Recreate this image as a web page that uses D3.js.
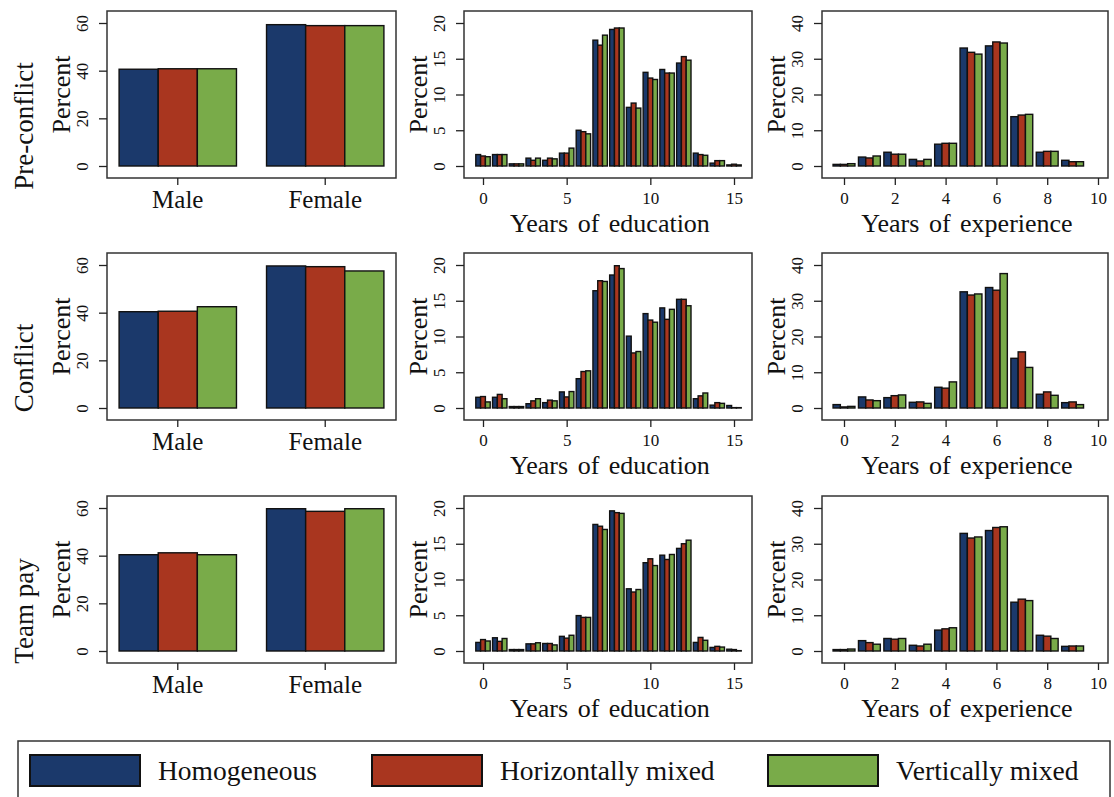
<!DOCTYPE html>
<html>
<head>
<meta charset="utf-8">
<script src="https://cdn.jsdelivr.net/npm/d3@7"></script>
<style>
  body { margin: 0; background: #fff; }
  svg { display: block; font-family: "Liberation Serif", "DejaVu Serif", serif; }
</style>
</head>
<body>
<div id="chart"></div>
<script>
// ---- data (percent of workers) ----
const rowLabels = ["Pre-conflict", "Conflict", "Team pay"];
const groups = ["Homogeneous", "Horizontally mixed", "Vertically mixed"];
const colors = ["#1b396b", "#a9361f", "#79ab49"];

const genderCats = ["Male", "Female"];
// each array: [homogeneous, horizontal, vertical], values per category
const genderPre      = [[40.6, 59.3], [40.8, 58.9], [40.8, 58.9]];
const genderConflict = [[40.4, 59.6], [40.6, 59.3], [42.5, 57.5]];
const genderTeam     = [[40.4, 59.7], [41.2, 58.6], [40.4, 59.7]];

const eduYears = [0, 1, 2, 3, 4, 5, 6, 7, 8, 9, 10, 11, 12, 13, 14, 15];
const eduPre = [
  [1.6, 1.6, 0.3, 1.1, 0.8, 1.8, 5.0, 17.6, 19.1, 8.2, 13.1, 13.5, 14.4, 1.8, 0.4, 0.15],
  [1.4, 1.6, 0.3, 0.8, 1.1, 1.8, 4.8, 16.9, 19.3, 8.8, 12.3, 13.0, 15.3, 1.6, 0.75, 0.25],
  [1.3, 1.6, 0.3, 1.1, 1.0, 2.5, 4.5, 18.3, 19.3, 8.1, 12.1, 13.0, 14.8, 1.5, 0.75, 0.15]
];
const eduConflict = [
  [1.5, 1.5, 0.2, 0.6, 0.75, 2.25, 4.1, 16.4, 18.6, 10.05, 13.2, 14.0, 15.2, 1.3, 0.4, 0.35],
  [1.6, 1.9, 0.2, 1.0, 1.1, 1.55, 5.1, 17.8, 19.9, 7.7, 12.3, 12.4, 15.2, 1.7, 0.75, 0.05],
  [0.85, 1.3, 0.2, 1.3, 1.0, 2.3, 5.2, 17.7, 19.5, 7.9, 12.0, 13.8, 14.3, 2.1, 0.65, 0.05]
];
const eduTeam = [
  [1.2, 1.85, 0.2, 1.0, 1.05, 2.05, 4.95, 17.7, 19.6, 8.7, 12.35, 13.4, 14.35, 1.2, 0.5, 0.25],
  [1.6, 1.35, 0.2, 1.0, 1.05, 1.8, 4.7, 17.45, 19.35, 8.25, 12.9, 12.8, 15.0, 1.9, 0.65, 0.2],
  [1.4, 1.75, 0.2, 1.15, 0.85, 2.2, 4.7, 17.0, 19.25, 8.6, 11.95, 13.5, 15.5, 1.5, 0.55, 0.05]
];

const expYears = [0, 1, 2, 3, 4, 5, 6, 7, 8, 9];
const expPre = [
  [0.45, 2.5, 3.85, 1.85, 6.1, 33.0, 33.6, 13.8, 3.85, 1.6],
  [0.45, 2.25, 3.3, 1.4, 6.35, 31.8, 34.7, 14.25, 4.1, 1.2],
  [0.65, 2.8, 3.3, 1.85, 6.35, 31.3, 34.4, 14.45, 4.1, 1.2]
];
const expConflict = [
  [0.95, 3.1, 2.9, 1.6, 5.8, 32.5, 33.7, 13.9, 3.85, 1.5],
  [0.3, 2.25, 3.45, 1.7, 5.55, 31.6, 32.95, 15.7, 4.5, 1.7],
  [0.45, 2.05, 3.65, 1.3, 7.3, 31.9, 37.6, 11.35, 3.55, 0.95]
];
const expTeam = [
  [0.4, 2.9, 3.5, 1.6, 5.85, 32.9, 33.7, 13.65, 4.4, 1.3],
  [0.4, 2.35, 3.3, 1.4, 6.2, 31.6, 34.55, 14.5, 4.15, 1.4],
  [0.55, 1.9, 3.5, 1.9, 6.5, 31.9, 34.75, 14.1, 3.5, 1.4]
];

const genderTicks = [0, 20, 40, 60];
const eduTicks = [0, 5, 10, 15, 20];
const expTicks = [0, 10, 20, 30, 40];
const eduXTicks = [0, 5, 10, 15];
const expXTicks = [0, 2, 4, 6, 8, 10];

const genderData = [genderPre, genderConflict, genderTeam];
const eduData = [eduPre, eduConflict, eduTeam];
const expData = [expPre, expConflict, expTeam];

// ---- layout ----
const width = 1114, height = 797;
const colX = [107, 464, 822];
const colW = [289, 288, 286];
const rowY = [11, 253, 496];
const boxH = 167;
const inset = 12;        // gap between box edge and 0 / top tick
const textCol = "#111";
const serif = '"Liberation Serif", "DejaVu Serif", serif';

const svg = d3.select("#chart").append("svg")
  .attr("width", width)
  .attr("height", height);

function yScaleFor(top, ticks) {
  return d3.scaleLinear()
    .domain([0, ticks[ticks.length - 1]])
    .range([top + boxH - inset, top + inset]);
}

function drawYAxis(g, x0, y, ticks) {
  const ax = g.append("g")
    .attr("transform", `translate(${x0},0)`)
    .call(d3.axisLeft(y).tickValues(ticks).tickSize(8).tickFormat(d3.format("d")))
    .attr("font-family", serif);
  ax.select(".domain").remove();
  ax.selectAll("line").attr("stroke", "#222").attr("stroke-width", 1.3);
  ax.selectAll("text")
    .attr("transform", "rotate(-90)")
    .attr("x", 0).attr("y", -19).attr("dy", 0)
    .attr("text-anchor", "middle")
    .attr("fill", textCol)
    .style("font-size", "17px");
}

function drawXAxis(g, y1, x, ticks, fontSize, labelY) {
  const axis = d3.axisBottom(x).tickSize(7);
  if (ticks) axis.tickValues(ticks).tickFormat(d3.format("d"));
  const ax = g.append("g")
    .attr("transform", `translate(0,${y1})`)
    .call(axis)
    .attr("font-family", serif);
  ax.select(".domain").remove();
  ax.selectAll("line").attr("stroke", "#222").attr("stroke-width", 1.3);
  ax.selectAll("text")
    .attr("y", labelY).attr("dy", 0)
    .attr("fill", textCol)
    .style("font-size", fontSize + "px");
}

function drawFrame(g, x0, top, w) {
  g.append("rect")
    .attr("x", x0).attr("y", top)
    .attr("width", w).attr("height", boxH)
    .attr("fill", "none")
    .attr("stroke", "#333")
    .attr("stroke-width", 1.5);
}

function percentLabel(g, x0, top) {
  g.append("text")
    .attr("transform", `translate(${x0 - 37},${top + boxH / 2}) rotate(-90)`)
    .attr("text-anchor", "middle")
    .attr("fill", textCol)
    .style("font-size", "26px")
    .text("Percent");
}

function histPanel(g, c, top, cats, series, xTicks, yTicks, xPad, title) {
  const x0 = colX[c], w = colW[c];
  const x = d3.scaleLinear()
    .domain([xTicks[0], xTicks[xTicks.length - 1]])
    .range([x0 + xPad[0], x0 + w - xPad[1]]);
  const y = yScaleFor(top, yTicks);
  const bw = 0.287;
  series.forEach((vals, s) => {
    g.append("g").selectAll("rect")
      .data(vals)
      .join("rect")
      .attr("x", (d, i) => x(cats[i] + (s - 1.5) * bw))
      .attr("width", x(bw) - x(0))
      .attr("y", d => y(d))
      .attr("height", d => y(0) - y(d))
      .attr("fill", colors[s])
      .attr("stroke", "#111")
      .attr("stroke-width", 1.4);
  });
  drawFrame(g, x0, top, w);
  drawYAxis(g, x0, y, yTicks);
  drawXAxis(g, top + boxH, x, xTicks, 17, 26);
  percentLabel(g, x0, top);
  g.append("text")
    .attr("x", (x0 + x0 + w) / 2 + 2).attr("y", top + boxH + 54)
    .attr("text-anchor", "middle")
    .attr("fill", textCol)
    .style("font-size", "26px")
    .style("word-spacing", "3px")
    .text(title);
}

function genderPanel(g, top, series) {
  const x0 = colX[0], w = colW[0];
  const x = d3.scaleBand()
    .domain(genderCats)
    .range([x0, x0 + w])
    .paddingInner(0.204)
    .paddingOuter(0.082);
  const sub = d3.scaleBand().domain(d3.range(groups.length)).range([0, x.bandwidth()]);
  const y = yScaleFor(top, genderTicks);
  series.forEach((vals, s) => {
    g.append("g").selectAll("rect")
      .data(vals)
      .join("rect")
      .attr("x", (d, i) => x(genderCats[i]) + sub(s))
      .attr("width", sub.bandwidth())
      .attr("y", d => y(d))
      .attr("height", d => y(0) - y(d))
      .attr("fill", colors[s])
      .attr("stroke", "#111")
      .attr("stroke-width", 1.4);
  });
  drawFrame(g, x0, top, w);
  drawYAxis(g, x0, y, genderTicks);
  drawXAxis(g, top + boxH, x, null, 25, 30);
  percentLabel(g, x0, top);
}

rowLabels.forEach((label, r) => {
  const top = rowY[r];
  const g = svg.append("g");
  genderPanel(g, top, genderData[r]);
  histPanel(g, 1, top, eduYears, eduData[r], eduXTicks, eduTicks, [19, 18], "Years of education");
  histPanel(g, 2, top, expYears, expData[r], expXTicks, expTicks, [22, 10], "Years of experience");
  g.append("text")
    .attr("transform", `translate(33,${top + 115}) rotate(-90)`)
    .attr("text-anchor", "middle")
    .attr("fill", textCol)
    .style("font-size", "27px")
    .text(label);
});

// ---- legend ----
const legendX = [30, 372, 768];
const legend = svg.append("g");
legend.append("rect")
  .attr("x", 18).attr("y", 741)
  .attr("width", 1092).attr("height", 62)
  .attr("fill", "#fff")
  .attr("stroke", "#333")
  .attr("stroke-width", 1.5);
groups.forEach((name, i) => {
  legend.append("rect")
    .attr("x", legendX[i]).attr("y", 755)
    .attr("width", 110).attr("height", 31)
    .attr("fill", colors[i])
    .attr("stroke", "#111")
    .attr("stroke-width", 2);
  legend.append("text")
    .attr("x", legendX[i] + 128).attr("y", 780)
    .attr("fill", textCol)
    .style("font-size", "27.5px")
    .text(name);
});
</script>
</body>
</html>
